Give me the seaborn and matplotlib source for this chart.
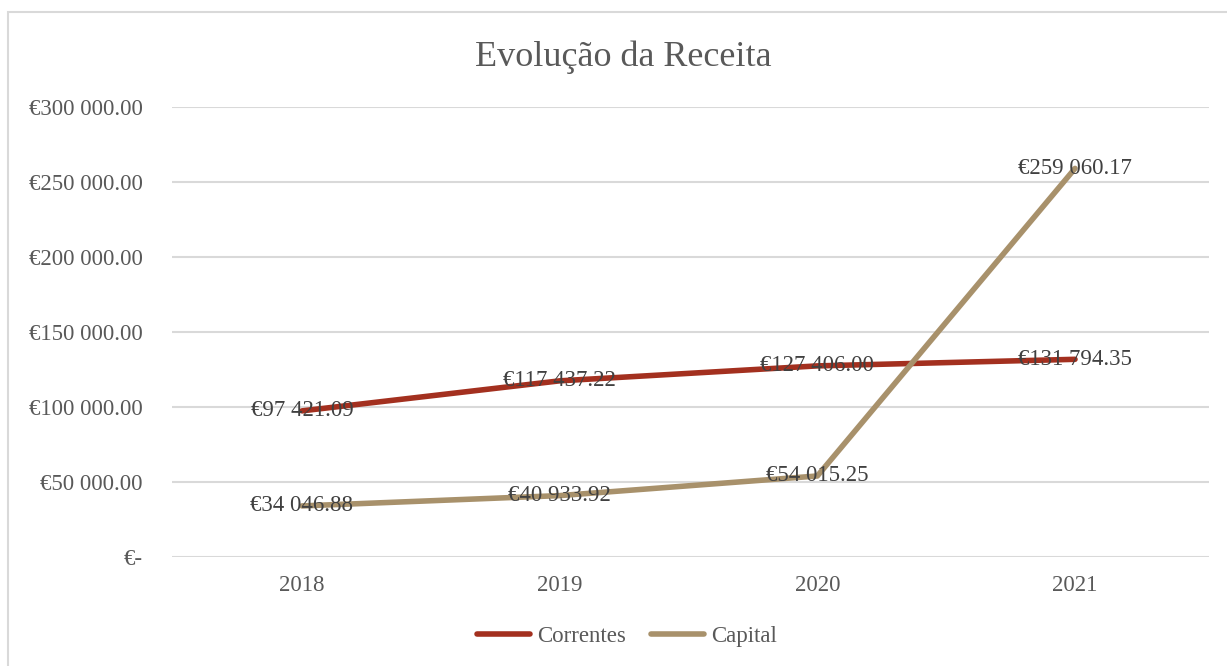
import pandas as pd
import matplotlib
matplotlib.use("Agg")
import matplotlib.pyplot as plt
import seaborn as sns
from matplotlib.patches import Rectangle

# data
anos = ["2018", "2019", "2020", "2021"]
correntes = [97421.09, 117437.22, 127406.00, 131794.35]
capital = [34046.88, 40933.92, 54015.25, 259060.17]
series = ["Correntes", "Capital"]
cores = {"Correntes": "#A3301F", "Capital": "#A8916B"}
y_ticks = [0, 50000, 100000, 150000, 200000, 250000, 300000]


def euro(v):
    if v == 0:
        return "€-"
    s = f"{v:,.2f}".replace(",", " ")
    return "€" + s


df = pd.DataFrame({
    "ano": anos * 2,
    "valor": correntes + capital,
    "serie": ["Correntes"] * len(anos) + ["Capital"] * len(anos),
})

sns.set_style("white")
plt.rcParams["font.family"] = ["Liberation Serif", "DejaVu Serif"]
texto = "#595959"

fig = plt.figure(figsize=(12.27, 6.66), dpi=100)
ax = fig.add_axes([172 / 1227, 109 / 666, (1209 - 172) / 1227, 450 / 666])

sns.lineplot(data=df, x="ano", y="valor", hue="serie", hue_order=series,
             palette=cores, linewidth=4, ax=ax, sort=False,
             solid_capstyle="round")

# data labels centred on the points
for i, a in enumerate(anos):
    for vals in (correntes, capital):
        ax.text(i, vals[i], euro(vals[i]), ha="center", va="center",
                fontsize=16.5, color="#404040")

ax.set_xlim(-0.5045, 3.52)
ax.set_ylim(0, 300000)
ax.set_yticks(y_ticks)
ax.set_yticklabels([euro(v) for v in y_ticks], fontsize=16.5, color=texto)
ax.set_xticks(range(len(anos)))
ax.set_xticklabels(anos, fontsize=16.5, color=texto)
ax.tick_params(axis="y", length=0, pad=21)
ax.tick_params(axis="x", length=0, pad=13)
ax.grid(axis="y", color="#d9d9d9", linewidth=1.5)
ax.set_axisbelow(True)
for sp in ax.spines.values():
    sp.set_visible(False)
ax.set_xlabel("")
ax.set_ylabel("")

fig.text(623 / 1227, 1 - 57 / 666, "Evolução da Receita", ha="center",
         va="center", fontsize=26, color=texto)

h, l = ax.get_legend_handles_labels()
ax.legend(h, l, loc="center", bbox_to_anchor=(627 / 1227, 30 / 666),
          bbox_transform=fig.transFigure, ncol=2, frameon=False,
          fontsize=16.5, handlelength=2.3, handletextpad=0.3,
          columnspacing=1.1, labelcolor=texto)

# chart border
fig.patches.append(Rectangle((8 / 1227, -0.05), 1.1, 1 - 12 / 666 + 0.05,
                             transform=fig.transFigure, fill=False,
                             edgecolor="#d9d9d9", linewidth=1.5))

fig.savefig("out.png", dpi=100)
